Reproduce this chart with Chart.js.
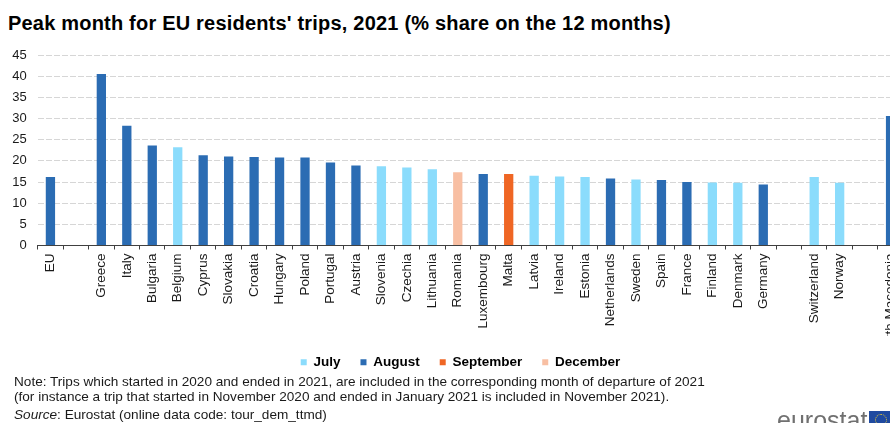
<!DOCTYPE html>
<html>
<head>
<meta charset="utf-8">
<title>Peak month for EU residents' trips, 2021</title>
<script src="https://cdn.jsdelivr.net/npm/chart.js@4.4.1/dist/chart.umd.min.js"></script>
<style>
  html, body { margin: 0; padding: 0; background: #fff; }
  body { width: 890px; height: 423px; overflow: hidden; position: relative;
         font-family: "Liberation Sans", Arial, sans-serif; color: #1a1a1a; }
  #title { position: absolute; left: 8px; top: 12px; font-size: 20px; letter-spacing: 0.2px;
           font-weight: bold; color: #000; white-space: nowrap; }
  #chart { position: absolute; left: 0; top: 0; }
  .note { position: absolute; left: 14px; font-size: 13.6px; white-space: nowrap; color: #1a1a1a; }
  #logo { position: absolute; left: 777px; top: 406px; font-size: 25px; color: #707070; }
  #flag { position: absolute; left: 869px; top: 411px; width: 30px; height: 20px; background: #1f4aa0; }
  #flag span { position: absolute; left: 6px; top: 3px; width: 10px; height: 10px; border: 1px dotted #f2d12b; border-radius: 50%; }
</style>
</head>
<body>
<div id="title">Peak month for EU residents' trips, 2021 (% share on the 12 months)</div>
<canvas id="chart" width="921" height="379"></canvas>
<div class="note" style="top:374px">Note: Trips which started in 2020 and ended in 2021, are included in the corresponding month of departure of 2021</div>
<div class="note" style="top:389px">(for instance a trip that started in November 2020 and ended in January 2021 is included in November 2021).</div>
<div class="note" style="top:407px"><i>Source</i>: Eurostat (online data code: tour_dem_ttmd)</div>
<div id="logo">eurostat</div>
<div id="flag"><span></span></div>
<script>
// Countries (empty strings are spacer slots between groups)
const countries = ['EU', '', 'Greece', 'Italy', 'Bulgaria', 'Belgium', 'Cyprus', 'Slovakia', 'Croatia',
  'Hungary', 'Poland', 'Portugal', 'Austria', 'Slovenia', 'Czechia', 'Lithuania', 'Romania',
  'Luxembourg', 'Malta', 'Latvia', 'Ireland', 'Estonia', 'Netherlands', 'Sweden', 'Spain', 'France',
  'Finland', 'Denmark', 'Germany', '', 'Switzerland', 'Norway', '', 'North Macedonia'];

// Share of the peak month in the year's trips (%)
const peakShare = [16.2, null, 40.5, 28.3, 23.6, 23.2, 21.3, 21.0, 20.9,
  20.8, 20.8, 19.6, 18.9, 18.7, 18.4, 18.0, 17.3,
  16.9, 16.9, 16.5, 16.3, 16.2, 15.8, 15.6, 15.5, 15.0,
  14.9, 14.8, 14.4, null, 16.2, 14.8, null, 30.6];

// Peak month of each country
const peakMonth = ['August', '', 'August', 'August', 'August', 'July', 'August', 'August', 'August',
  'August', 'August', 'August', 'August', 'July', 'July', 'July', 'December',
  'August', 'September', 'July', 'July', 'July', 'August', 'July', 'August', 'August',
  'July', 'July', 'August', '', 'July', 'July', '', 'August'];

const months = ['July', 'August', 'September', 'December'];
const monthColours = { July: '#8bdcfc', August: '#2b6cb3', September: '#ef6624', December: '#f8bfa3' };

const yTicks = { min: 0, max: 45, step: 5 };

const FONT = "'Liberation Sans', Arial, sans-serif";

// Moves the legend row sideways so it sits centred under the full figure
const legendOffset = {
  id: 'legendOffset',
  afterLayout(chart) {
    const lg = chart.legend;
    if (!lg) return;
    const dx = 460.5 - (lg.left + lg.right) / 2;
    lg.left += dx;
    lg.right += dx;
  }
};

new Chart(document.getElementById('chart'), {
  type: 'bar',
  data: {
    labels: countries,
    datasets: [{
      data: peakShare,
      backgroundColor: peakMonth.map(m => monthColours[m] || 'transparent'),
      borderWidth: 0,
      barPercentage: 0.365,
      categoryPercentage: 1.0
    }]
  },
  plugins: [legendOffset],
  options: {
    responsive: false,
    animation: false,
    devicePixelRatio: 1,
    layout: { padding: { left: 0, right: 17.7, top: 55, bottom: 0 } },
    plugins: {
      title: { display: false },
      tooltip: { enabled: false },
      legend: {
        display: true,
        position: 'bottom',
        labels: {
          boxWidth: 6,
          boxHeight: 6,
          padding: 20,
          color: '#1a1a1a',
          font: { family: FONT, size: 13.5, weight: 'bold' },
          generateLabels: () => months.map(m => ({
            text: m,
            fillStyle: monthColours[m],
            strokeStyle: monthColours[m],
            lineWidth: 0,
            hidden: false
          }))
        }
      }
    },
    scales: {
      x: {
        offset: true,
        grid: {
          display: true,
          offset: true,
          drawOnChartArea: false,
          drawTicks: true,
          tickLength: 4,
          color: '#404040'
        },
        border: { display: true, color: '#404040', width: 1 },
        ticks: {
          autoSkip: false,
          minRotation: 90,
          maxRotation: 90,
          padding: 4,
          color: '#1a1a1a',
          font: { family: FONT, size: 13.5 }
        },
        afterFit: s => { s.height = 90; }
      },
      y: {
        min: yTicks.min,
        max: yTicks.max,
        grid: {
          color: '#d6d6d6',
          drawTicks: false,
          lineWidth: 1
        },
        border: { display: false, dash: [6, 2] },
        ticks: {
          stepSize: yTicks.step,
          padding: 11,
          color: '#1a1a1a',
          font: { family: FONT, size: 13 }
        },
        afterFit: s => { s.width = 37.7; }
      }
    }
  }
});
</script>
</body>
</html>
